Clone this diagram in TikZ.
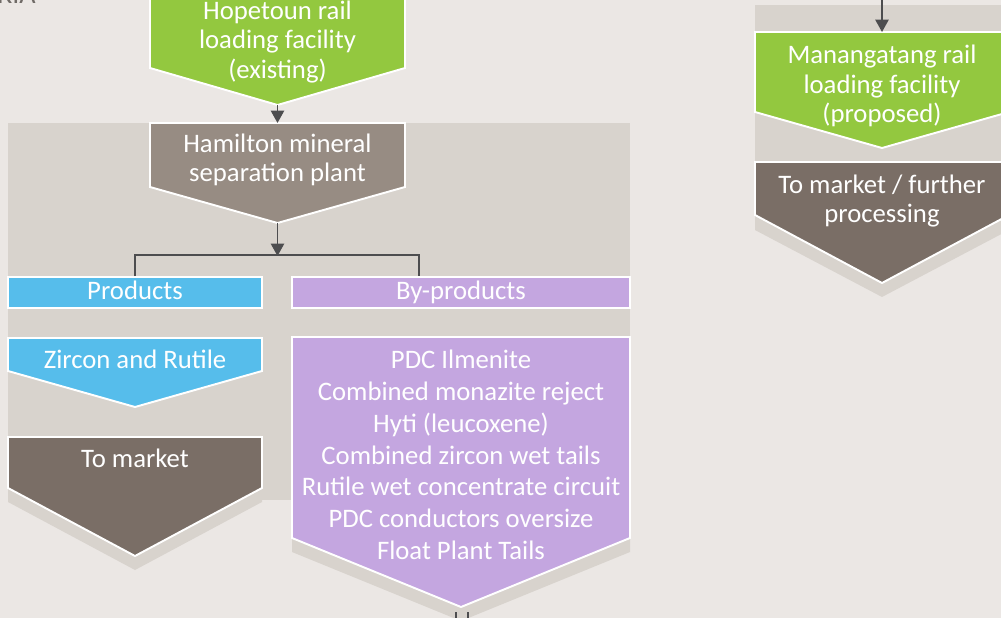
\documentclass[tikz,border=0pt]{standalone}
\usepackage{fontspec}
\setmainfont{Carlito}
\usepackage{xcolor}
\usepackage{tikz}
\usetikzlibrary{arrows.meta,positioning}
\definecolor{pagebg}{HTML}{EBE7E4}
\definecolor{panelgrey}{HTML}{D8D3CD}
\definecolor{railgreen}{HTML}{93C83F}
\definecolor{plantgrey}{HTML}{978C83}
\definecolor{marketbrown}{HTML}{7A6E66}
\definecolor{prodblue}{HTML}{56BDEB}
\definecolor{bypurple}{HTML}{C4A6E0}
\definecolor{linegrey}{HTML}{4D4D4F}
\definecolor{headgrey}{HTML}{6F6A66}

\begin{document}
\begin{tikzpicture}[x=0.02cm,y=-0.02cm,
    lbl/.style={text=white, font=\fontsize{15.2}{16.6}\selectfont, align=center, inner sep=0pt},
    boxline/.style={draw=white, line width=1.1pt, line join=miter},
    conn/.style={draw=linegrey, line width=1pt},
    tip/.style={-{Triangle[length=7pt,width=7.5pt]}}]
    \useasboundingbox (0,0) rectangle (1001,618);
    \clip (0,0) rectangle (1001,618);
    \fill[pagebg] (0,0) rectangle (1001,618);

    % Heading (cut off)
    \node[anchor=base east, text=headgrey, font=\fontsize{16}{18}\selectfont, inner sep=0pt] (head) at (36,4) {RIA};

    % Panels
    \fill[panelgrey] (8,123) rectangle (630,500);
    \fill[panelgrey] (755,5) rectangle (1012,162);

    % Shadows
    \fill[panelgrey] (8,451) -- (262,451) -- (262,502) -- (135,570) -- (8,502) -- cycle;
    \fill[panelgrey] (292,351) -- (630,351) -- (630,552) -- (461,621) -- (292,552) -- cycle;
    \fill[panelgrey] (755,176) -- (1009,176) -- (1009,230) -- (882,297) -- (755,230) -- cycle;

    % Hopetoun rail loading facility
    \draw[boxline, fill=railgreen] (150,-20) -- (405,-20) -- (405,68) -- (277.5,105) coordinate (hopetip) -- (150,68) -- cycle;
    \node[lbl] (hope) at (277.5,42) {Hopetoun rail\\loading facility\\(existing)};

    % Hamilton mineral separation plant
    \draw[boxline, fill=plantgrey] (150,123) coordinate (hamnw) -- (405,123) -- (405,187) -- (277.5,223) coordinate (hamtip) -- (150,187) -- cycle;
    \coordinate (hamtop) at (277.5,123);
    \node[lbl] (ham) at (277.5,160) {Hamilton mineral\\separation plant};

    % Products / By-products
    \node[lbl, boxline, fill=prodblue, minimum width=5.08cm, minimum height=0.62cm, text height=0.86em, text depth=0.04em] (prod) at (135,292.5) {Products};
    \node[lbl, boxline, fill=bypurple, minimum width=6.76cm, minimum height=0.62cm, text height=0.86em, text depth=0.04em] (byprod) at (461,292.5) {By-products};

    % Zircon and Rutile
    \draw[boxline, fill=prodblue] (8,338) -- (262,338) -- (262,371) -- (135,407) -- (8,371) -- cycle;
    \node[lbl] (zr) at (135,359) {Zircon and Rutile};

    % To market
    \draw[boxline, fill=marketbrown] (8,437) -- (262,437) -- (262,488) -- (135,556) -- (8,488) -- cycle;
    \node[lbl] (market) at (135,458) {To market};

    % By-product list
    \draw[boxline, fill=bypurple] (292,337) -- (630,337) -- (630,538) -- (461,607) coordinate (bytip) -- (292,538) -- cycle;
    \node[lbl, font=\fontsize{15.2}{18.1}\selectfont] (bylist) at (461,455) {PDC Ilmenite\\Combined monazite reject\\Hyti (leucoxene)\\Combined zircon wet tails\\Rutile wet concentrate circuit\\PDC conductors oversize\\Float Plant Tails};

    % Manangatang rail loading facility
    \draw[boxline, fill=railgreen] (755,32) -- (1009,32) -- (1009,112) -- (882,148) -- (755,112) -- cycle;
    \coordinate (mantop) at (882,32);
    \coordinate (manin) at (882,-10);
    \node[lbl] (man) at (882,86) {Manangatang rail\\loading facility\\(proposed)};

    % To market / further processing
    \draw[boxline, fill=marketbrown] (755,162) -- (1009,162) -- (1009,215) -- (882,283) -- (755,215) -- cycle;
    \node[lbl] (further) at (882,201) {To market / further\\processing};

    % Connectors
    \draw[conn, tip] (hopetip) -- (hamtop);
    \draw[conn, tip] (hamtip) -- ++(0,33) coordinate (split);
    \draw[conn] (prod.north) -- ++(0,-21) -| ([xshift=-0.84cm]byprod.north);
    \draw[conn, tip] (manin) -- (mantop);
    \coordinate (outa) at (456,612);
    \coordinate (outb) at (468,612);
    \draw[conn] (outa) -- ++(0,20);
    \draw[conn] (outb) -- ++(0,20);
\end{tikzpicture}
\end{document}
